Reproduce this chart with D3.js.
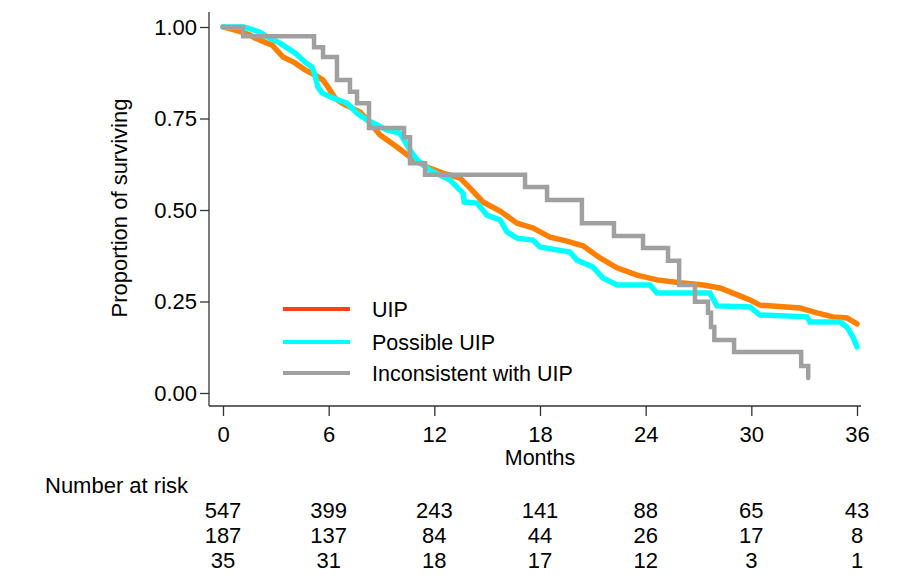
<!DOCTYPE html>
<html>
<head>
<meta charset="utf-8">
<script src="https://cdn.jsdelivr.net/npm/d3@7"></script>
<style>
  body { margin: 0; background: #fff; }
  svg { display: block; }
</style>
</head>
<body>
<div id="chart"></div>
<script>
// survival curves: [month, proportion surviving]
var uipCurve = [
  [0, 1.000], [0.28, 0.997], [1.08, 0.986], [1.53, 0.978], [1.82, 0.970],
  [2.50, 0.956], [2.78, 0.951], [3.41, 0.918], [4.09, 0.902], [4.66, 0.883],
  [5.22, 0.869], [5.68, 0.855], [5.96, 0.836], [6.36, 0.806], [6.76, 0.792],
  [7.21, 0.781], [7.78, 0.768], [8.35, 0.738], [8.92, 0.705], [9.88, 0.672],
  [10.62, 0.645], [11.58, 0.617], [12.49, 0.601], [13.46, 0.587], [14.03, 0.560],
  [14.76, 0.522], [15.73, 0.497], [16.70, 0.464], [17.60, 0.451], [18.57, 0.426],
  [19.53, 0.415], [20.44, 0.402], [21.41, 0.369], [22.37, 0.342], [23.51, 0.322],
  [24.64, 0.309], [25.95, 0.301], [27.26, 0.295], [28.22, 0.287], [28.96, 0.273],
  [29.93, 0.254], [30.49, 0.240], [32.77, 0.232], [33.73, 0.219], [34.64, 0.208],
  [35.43, 0.205], [36.0, 0.189]
];

var possibleCurve = [
  [0, 1.000], [1.14, 1.000], [1.42, 0.997], [2.10, 0.986], [2.50, 0.973],
  [3.24, 0.956], [4.09, 0.929], [4.66, 0.904], [5.05, 0.891], [5.22, 0.869],
  [5.39, 0.836], [5.62, 0.820], [6.25, 0.806], [7.04, 0.792], [7.61, 0.765],
  [8.18, 0.746], [9.31, 0.719], [10.05, 0.710], [10.62, 0.664], [11.02, 0.637],
  [11.75, 0.609], [12.89, 0.582], [13.63, 0.546], [13.70, 0.522], [14.42, 0.519],
  [14.99, 0.486], [15.73, 0.473], [16.13, 0.440], [16.70, 0.423], [17.60, 0.418],
  [18.00, 0.399], [18.97, 0.391], [19.70, 0.385], [20.10, 0.363], [21.01, 0.344],
  [21.58, 0.314], [22.37, 0.295], [24.25, 0.295], [24.64, 0.273], [27.65, 0.273],
  [28.05, 0.238], [29.93, 0.235], [30.49, 0.213], [33.16, 0.208], [33.33, 0.194],
  [35.04, 0.194], [35.43, 0.180], [35.77, 0.153], [36.0, 0.126]
];

var inconsistentCurve = [
  [0, 1.000], [1.14, 0.975], [5.17, 0.945], [5.68, 0.918], [6.47, 0.855],
  [7.21, 0.823], [7.61, 0.792], [8.29, 0.724], [10.28, 0.699], [10.62, 0.628],
  [11.47, 0.596], [17.15, 0.563], [18.40, 0.527], [20.38, 0.464], [22.20, 0.429],
  [23.85, 0.396], [25.27, 0.361], [25.90, 0.295], [26.80, 0.249], [27.54, 0.219],
  [27.71, 0.180], [27.90, 0.145], [29.02, 0.112], [32.83, 0.074], [33.23, 0.041]
];

var groupNames = ["UIP", "Possible UIP", "Inconsistent with UIP"];
var monthTicks = [0, 6, 12, 18, 24, 30, 36];
var survivalTicks = [0, 0.25, 0.5, 0.75, 1];
var atRiskUip = [547, 399, 243, 141, 88, 65, 43];
var atRiskPossible = [187, 137, 84, 44, 26, 17, 8];
var atRiskInconsistent = [35, 31, 18, 17, 12, 3, 1];

var width = 901, height = 575;
var curveColors = ["#ff7f00", "#00ffff", "#a0a0a0"];
var legendColors = ["#ff4019", "#00ffff", "#a0a0a0"];
var sans = "'Liberation Sans', Arial, sans-serif";

var x = d3.scaleLinear().domain([0, 36]).range([223, 857]);
var y = d3.scaleLinear().domain([0, 1]).range([393, 27]);

var svg = d3.select("#chart")
    .append("svg")
    .attr("width", width)
    .attr("height", height);

// y axis
var yAxis = svg.append("g")
    .attr("transform", "translate(209,0)")
    .call(d3.axisLeft(y)
        .tickValues(survivalTicks)
        .tickFormat(d3.format(".2f"))
        .tickSize(9)
        .tickPadding(3));
yAxis.select(".domain").attr("d", "M0,12V406");
yAxis.selectAll("text")
    .attr("font-family", sans)
    .attr("font-size", 22)
    .attr("fill", "#000");
yAxis.selectAll("line, path").attr("stroke", "#333").attr("stroke-width", 1.3);

// x axis
var xAxis = svg.append("g")
    .attr("transform", "translate(0,406)")
    .call(d3.axisBottom(x)
        .tickValues(monthTicks)
        .tickSize(10)
        .tickPadding(10));
xAxis.select(".domain").attr("d", "M209,0H861");
xAxis.selectAll("text")
    .attr("font-family", sans)
    .attr("font-size", 22)
    .attr("fill", "#000");
xAxis.selectAll("line, path").attr("stroke", "#333").attr("stroke-width", 1.3);

svg.append("text")
    .attr("x", x(18))
    .attr("y", 465)
    .attr("text-anchor", "middle")
    .attr("font-family", sans)
    .attr("font-size", 21.5)
    .text("Months");

svg.append("text")
    .attr("transform", "translate(127,208) rotate(-90)")
    .attr("text-anchor", "middle")
    .attr("font-family", sans)
    .attr("font-size", 22)
    .text("Proportion of surviving");

// curves
var line = d3.line()
    .x(function(d) { return x(d[0]); })
    .y(function(d) { return y(d[1]); });

var curves = [uipCurve, possibleCurve, inconsistentCurve];
curves.forEach(function(c, i) {
  svg.append("path")
      .datum(c)
      .attr("fill", "none")
      .attr("stroke", curveColors[i])
      .attr("stroke-width", i == 2 ? 4.5 : 5.5)
      .attr("stroke-linecap", "round")
      .attr("d", line.curve(i == 2 ? d3.curveStepAfter : d3.curveLinear));
});

// legend
var legend = svg.selectAll(".legend")
    .data(groupNames)
    .enter()
    .append("g")
    .attr("class", "legend")
    .attr("transform", function(d, i) {
        return "translate(283," + [309, 342, 373][i] + ")";
    });

legend.append("line")
    .attr("x1", 0)
    .attr("x2", 67)
    .attr("stroke", function(d, i) { return legendColors[i]; })
    .attr("stroke-width", 4);

legend.append("text")
    .attr("x", 89)
    .attr("dy", "0.35em")
    .attr("font-family", sans)
    .attr("font-size", 21.5)
    .text(function(d) { return d; });

// number at risk table
svg.append("text")
    .attr("x", 45)
    .attr("y", 493)
    .attr("font-family", sans)
    .attr("font-size", 22)
    .text("Number at risk");

[atRiskUip, atRiskPossible, atRiskInconsistent].forEach(function(row, r) {
  svg.append("g")
      .selectAll("text")
      .data(row)
      .enter()
      .append("text")
      .attr("x", function(d, i) { return x(monthTicks[i]); })
      .attr("y", 518 + r * 25)
      .attr("text-anchor", "middle")
      .attr("font-family", sans)
      .attr("font-size", 22)
      .text(function(d) { return d; });
});
</script>
</body>
</html>
